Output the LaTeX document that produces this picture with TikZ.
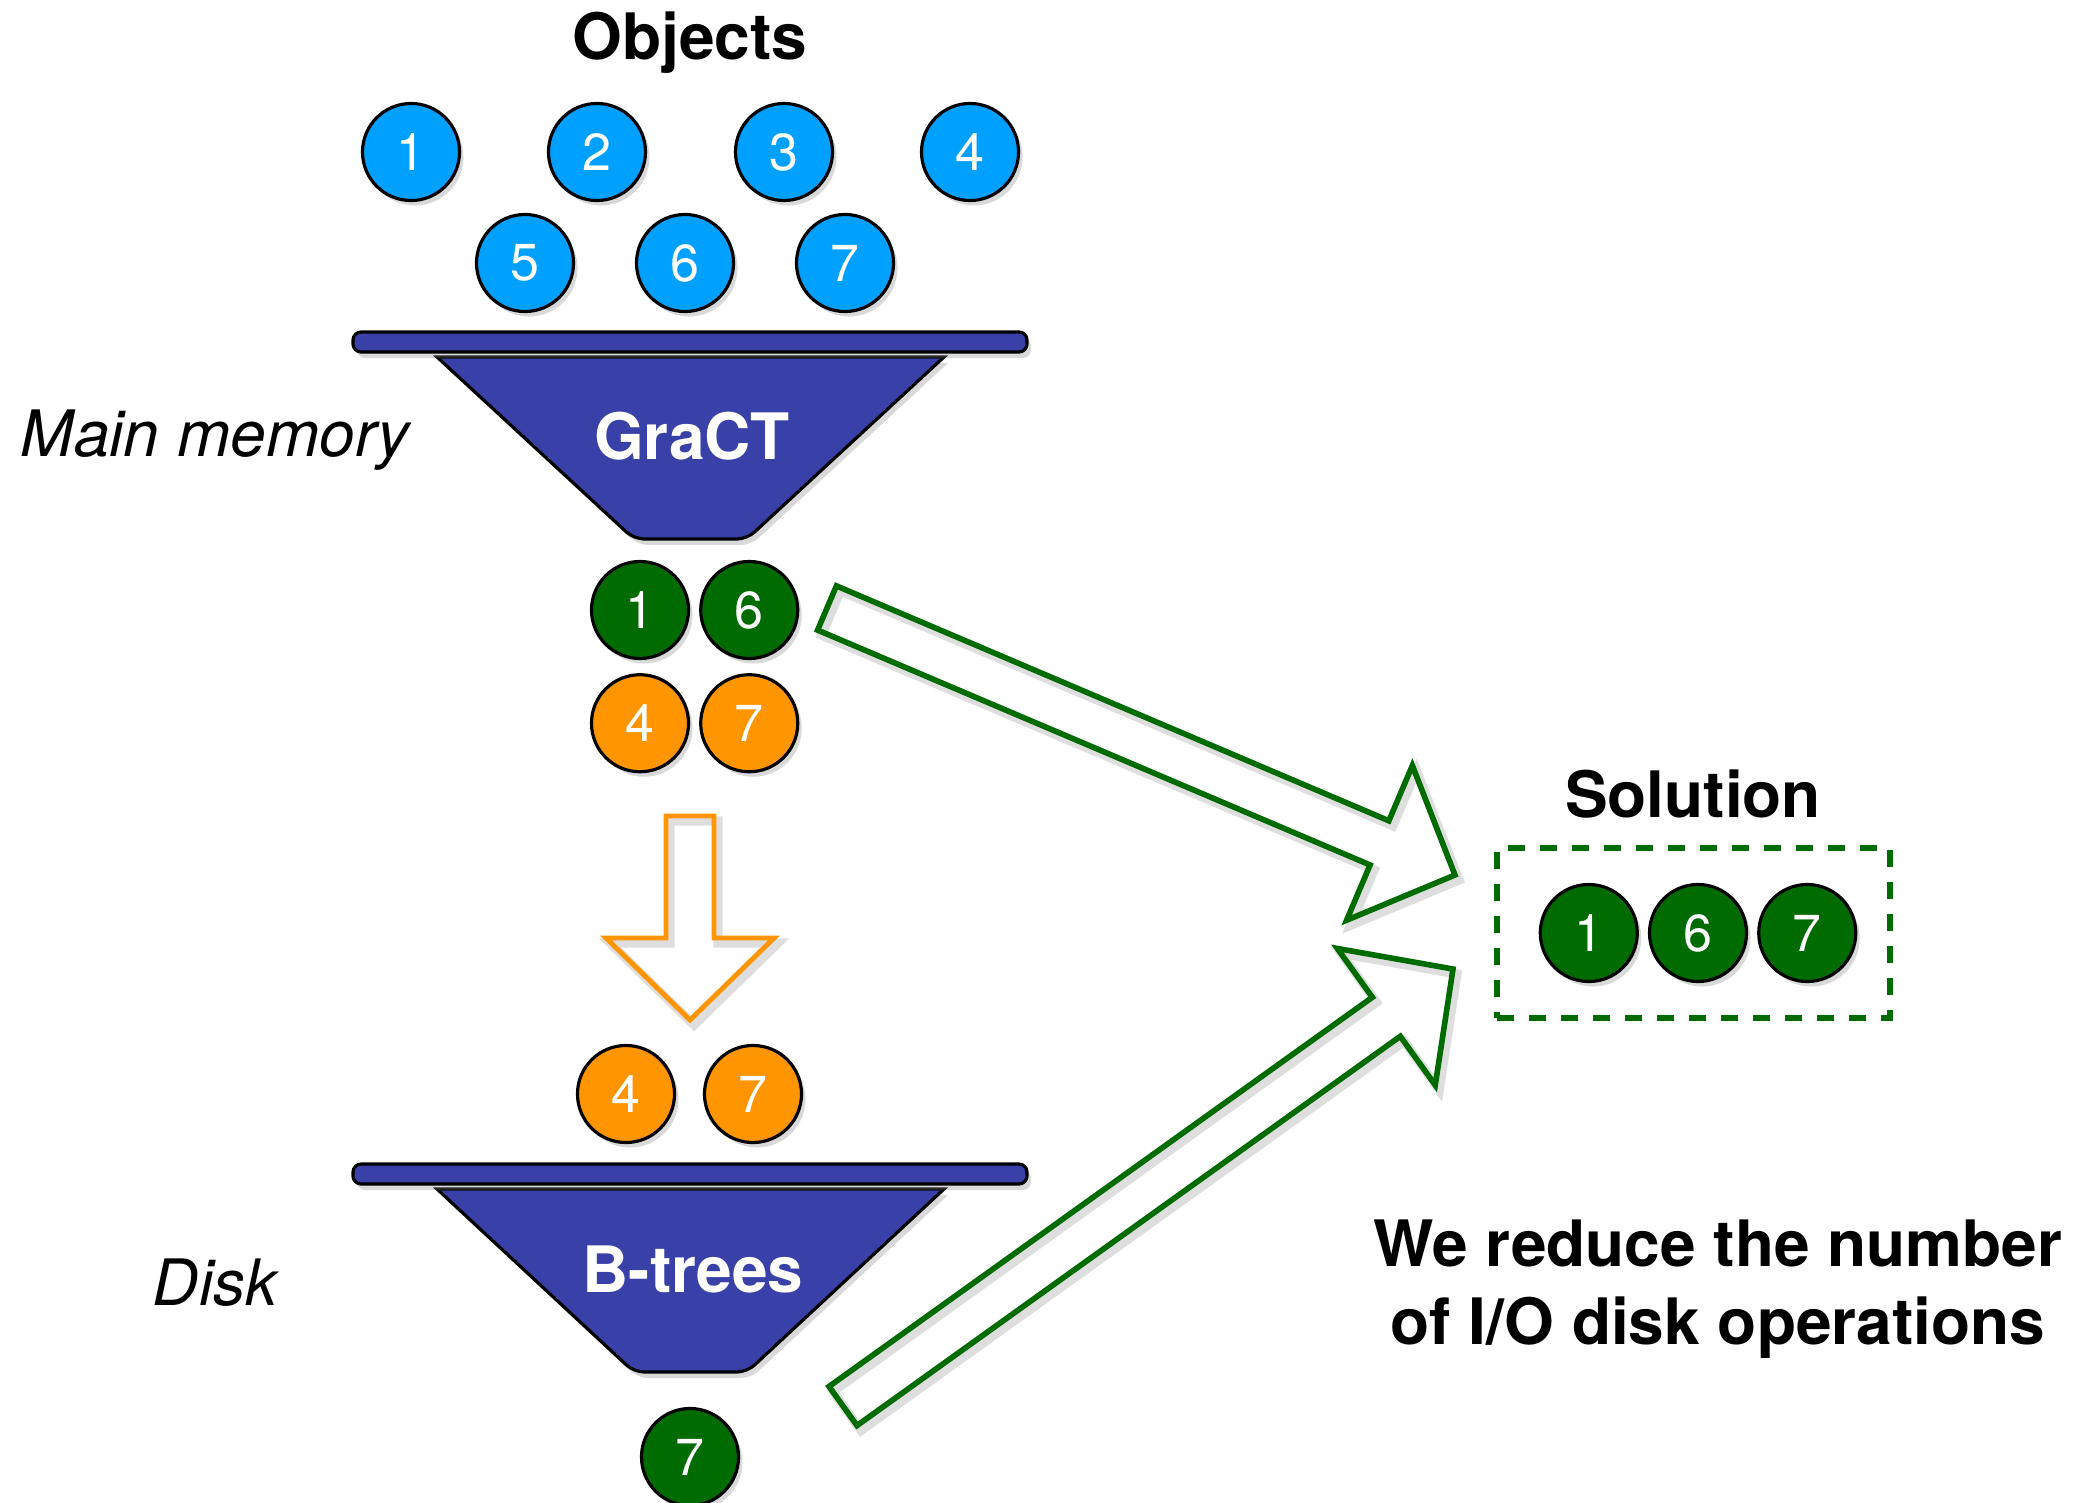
\documentclass[tikz,border=0pt]{standalone}
\usepackage{fontspec}
\setmainfont{TeX Gyre Heros}
\usepackage{xcolor}
\usepackage{tikz}
\usetikzlibrary{positioning, calc, shadows}
\definecolor{objblue}{HTML}{00A1FE}
\definecolor{funnelblue}{HTML}{3941A8}
\definecolor{solgreen}{HTML}{006B00}
\definecolor{diskorange}{HTML}{FF9500}
\tikzstyle{ball}=[circle,draw=black,line width=0.9pt,minimum size=0.97cm,inner sep=0pt,text=white,
  font=\fontsize{14.8}{17}\selectfont,drop shadow={opacity=0.3,shadow xshift=0.04cm,shadow yshift=-0.05cm}]
\tikzstyle{funnel}=[fill=funnelblue,draw=black,line width=0.9pt,
  drop shadow={opacity=0.3,shadow xshift=0.04cm,shadow yshift=-0.06cm}]
\tikzstyle{big}=[font=\fontsize{18.2}{22.2}\selectfont\bfseries]
\tikzstyle{slant}=[font=\fontsize{18.2}{22.2}\selectfont\itshape]
\tikzstyle{hollowshade}=[draw=black,opacity=0.13,line width=2.6pt,line join=miter]
\tikzstyle{greenarr}=[draw=solgreen,line width=1.6pt,line join=miter]
\tikzstyle{orangearr}=[draw=diskorange,line width=1.4pt,line join=miter]

% hollow block arrow from #1 to #2
\newcommand{\blockarrow}[3]{%
  \path let \p1=($(#2)-(#1)$) in
    \pgfextra{\pgfmathsetmacro{\arrlen}{veclen(\x1,\y1)}\pgfmathsetmacro{\arrang}{atan2(\y1,\x1)}%
      \global\let\arrlen\arrlen\global\let\arrang\arrang};
  \draw[hollowshade,shift={(#1)},shift={(0.04cm,-0.05cm)},rotate=\arrang]
    (0pt,-0.24cm) -- ({\arrlen pt-0.82cm},-0.24cm) -- ({\arrlen pt-0.82cm},-0.84cm) -- (\arrlen pt,0pt)
    -- ({\arrlen pt-0.82cm},0.84cm) -- ({\arrlen pt-0.82cm},0.24cm) -- (0pt,0.24cm) -- cycle;
  \draw[#3,shift={(#1)},rotate=\arrang]
    (0pt,-0.24cm) -- ({\arrlen pt-0.82cm},-0.24cm) -- ({\arrlen pt-0.82cm},-0.84cm) -- (\arrlen pt,0pt)
    -- ({\arrlen pt-0.82cm},0.84cm) -- ({\arrlen pt-0.82cm},0.24cm) -- (0pt,0.24cm) -- cycle;
}

\begin{document}
\begin{tikzpicture}[x=0.01cm,y=0.01cm]
  \useasboundingbox (0,0) rectangle (2080,1502);

  % incoming objects
  \node[big,anchor=base] (objects) at (690,1442) {Objects};
  \node[ball,fill=objblue] (b1) at (411,1350) {1};
  \node[ball,fill=objblue] (b2) at (597,1350) {2};
  \node[ball,fill=objblue] (b3) at (784,1350) {3};
  \node[ball,fill=objblue] (b4) at (970,1350) {4};
  \node[ball,fill=objblue] (b5) at (525,1239) {5};
  \node[ball,fill=objblue] (b6) at (685,1239) {6};
  \node[ball,fill=objblue] (b7) at (845,1239) {7};

  % main memory funnel
  \filldraw[funnel] (437,1145) [rounded corners=0.1cm] -- (634,963) -- (747,963) [sharp corners] -- (944,1145) -- cycle;
  \filldraw[funnel,rounded corners=0.08cm] (353,1150) rectangle (1027,1170);
  \node[big,text=white,anchor=base] (gract) at (692,1042) {GraCT};
  \node[slant,anchor=base] (mainmem) at (215,1045) {Main memory};

  % output of GraCT
  \node[ball,fill=solgreen] (g1) at (640,892) {1};
  \node[ball,fill=solgreen,right=0.09cm of g1] (g6) {6};
  \node[ball,fill=diskorange,below=0.13cm of g1] (o4) {4};
  \node[ball,fill=diskorange,below=0.13cm of g6] (o7) {7};

  \coordinate (oas) at (690,686);
  \coordinate (oae) at (690,482);
  \blockarrow{oas}{oae}{orangearr}

  % disk funnel
  \node[ball,fill=diskorange] (d4) at (626,408) {4};
  \node[ball,fill=diskorange] (d7) at (753,408) {7};
  \filldraw[funnel] (437,313) [rounded corners=0.1cm] -- (634,130) -- (747,130) [sharp corners] -- (944,313) -- cycle;
  \filldraw[funnel,rounded corners=0.08cm] (353,318) rectangle (1027,338);
  \node[big,text=white,anchor=base] (btrees) at (693,210) {B-trees};
  \node[slant,anchor=base] (disk) at (215,197) {Disk};
  \node[ball,fill=solgreen] (g7) at (690,45) {7};

  % solution
  \node[big,anchor=base] (soltitle) at (1693,685) {Solution};
  \node[draw=solgreen,line width=1.9pt,dash pattern=on 0.17cm off 0.15cm,
        minimum width=3.93cm,minimum height=1.70cm] (solbox) at (1693.5,569) {};
  \node[ball,fill=solgreen] (s6) at (1698,569) {6};
  \node[ball,fill=solgreen,left=0.09cm of s6] (s1) {1};
  \node[ball,fill=solgreen,right=0.09cm of s6] (s7) {7};

  \coordinate (a1s) at (827,894);
  \coordinate (a1e) at (1455,627);
  \blockarrow{a1s}{a1e}{greenarr}
  \coordinate (a2s) at (843,96);
  \coordinate (a2e) at (1453,533);
  \blockarrow{a2s}{a2e}{greenarr}

  \node[big,align=center] (reduce) at (1718,213) {We reduce the number\\of I/O disk operations};
\end{tikzpicture}
\end{document}
